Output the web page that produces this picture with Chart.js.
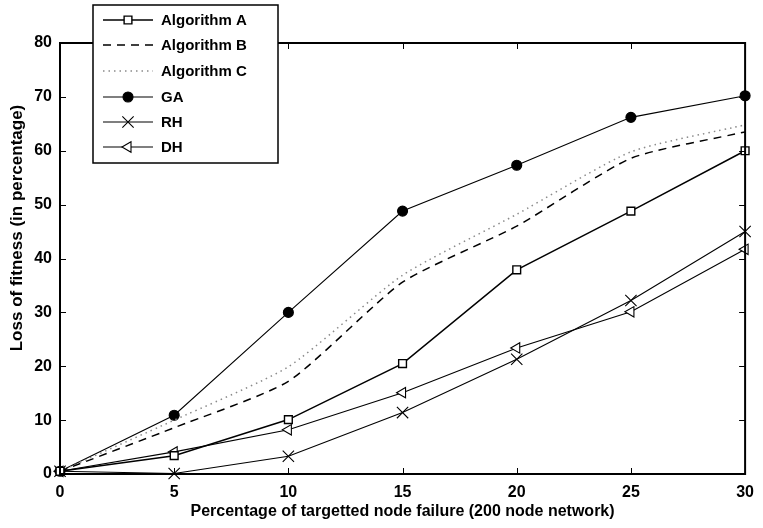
<!DOCTYPE html>
<html>
<head>
<meta charset="utf-8">
<script src="https://cdn.jsdelivr.net/npm/chart.js@4.4.1/dist/chart.umd.min.js"></script>
<style>
  html, body { margin: 0; padding: 0; background: #fff; }
  #wrap { width: 763px; height: 528px; }
</style>
</head>
<body>
<div id="wrap"><canvas id="lossChart" width="763" height="528"></canvas></div>
<script>
// Data
const failurePct = [0, 5, 10, 15, 20, 25, 30];
const algoA = [0.5, 3.4, 10.1, 20.5, 37.9, 48.8, 60.0];
const algoB = [0.5, 8.6, 17.2, 35.6, 46.0, 58.6, 63.5];
const algoC = [0.5, 10.0, 19.9, 36.9, 48.2, 59.8, 64.8];
const gaVals = [0.5, 10.9, 30.0, 48.8, 57.3, 66.2, 70.2];
const rhVals = [0.5, 0.1, 3.3, 11.4, 21.3, 32.2, 45.0];
const dhVals = [0.5, 4.1, 8.2, 15.1, 23.4, 30.1, 41.7];
const xTicks = [0, 5, 10, 15, 20, 25, 30];
const yTicks = [0, 10, 20, 30, 40, 50, 60, 70, 80];

const FONT = '"Liberation Sans", Arial, Helvetica, sans-serif';

function toPoints(vals) {
    return failurePct.map((x, i) => ({ x: x, y: vals[i] }));
}

// frame, inward ticks, y title and the boxed legend
const decorPlugin = {
    id: 'decor',
    afterDatasetsDraw(chart) {
        const { ctx, chartArea: a, scales } = chart;
        const tl = 6;
        ctx.save();
        ctx.strokeStyle = '#000';
        ctx.lineWidth = 1;
        ctx.beginPath();
        xTicks.forEach(v => {
            const px = Math.round(scales.x.getPixelForValue(v)) + 0.5;
            ctx.moveTo(px, a.bottom); ctx.lineTo(px, a.bottom - tl);
            ctx.moveTo(px, a.top); ctx.lineTo(px, a.top + tl);
        });
        yTicks.forEach(v => {
            const py = Math.round(scales.y.getPixelForValue(v)) + 0.5;
            ctx.moveTo(a.left, py); ctx.lineTo(a.left + tl, py);
            ctx.moveTo(a.right, py); ctx.lineTo(a.right - tl, py);
        });
        ctx.stroke();
        ctx.lineWidth = 2;
        ctx.strokeRect(a.left, a.top, a.right - a.left, a.bottom - a.top);
        ctx.restore();
    },
    afterDraw(chart) {
        const { ctx } = chart;
        ctx.save();
        // y axis title
        ctx.font = 'bold 17px ' + FONT;
        ctx.fillStyle = '#000';
        ctx.textAlign = 'center';
        ctx.textBaseline = 'middle';
        ctx.translate(17, 228);
        ctx.rotate(-Math.PI / 2);
        ctx.fillText('Loss of fitness (in percentage)', 0, 0);
        ctx.restore();

        // legend box
        const box = { x: 93, y: 5, w: 185, h: 158 };
        ctx.save();
        ctx.fillStyle = '#fff';
        ctx.fillRect(box.x, box.y, box.w, box.h);
        ctx.strokeStyle = '#000';
        ctx.lineWidth = 1.5;
        ctx.strokeRect(box.x, box.y, box.w, box.h);
        const rowY = [20, 45, 71, 97, 122, 147];
        chart.data.datasets.forEach((ds, i) => {
            const y = rowY[i];
            ctx.save();
            ctx.strokeStyle = ds.borderColor;
            ctx.lineWidth = ds.borderWidth;
            ctx.setLineDash(ds.borderDash || []);
            ctx.beginPath();
            ctx.moveTo(103, y);
            ctx.lineTo(153, y);
            ctx.stroke();
            ctx.restore();
            if (ds.pointRadius > 0) {
                ctx.save();
                ctx.fillStyle = ds.pointBackgroundColor;
                ctx.strokeStyle = ds.pointBorderColor;
                ctx.lineWidth = ds.pointBorderWidth;
                Chart.helpers.drawPoint(ctx, {
                    pointStyle: ds.pointStyle,
                    radius: ds.pointRadius,
                    rotation: ds.pointRotation || 0,
                    borderWidth: ds.pointBorderWidth
                }, 128, y);
                ctx.restore();
            }
            ctx.fillStyle = '#000';
            ctx.font = 'bold 15px ' + FONT;
            ctx.textAlign = 'left';
            ctx.textBaseline = 'middle';
            ctx.fillText(ds.label, 161, y + 1);
        });
        ctx.restore();
    }
};

function lineSet(label, vals, extra) {
    return Object.assign({
        label: label,
        data: toPoints(vals),
        borderColor: '#000',
        borderWidth: 1.1,
        pointRadius: 0,
        pointBorderColor: '#000',
        pointBackgroundColor: '#fff',
        pointBorderWidth: 1.1,
        fill: false,
        clip: false,
        tension: 0
    }, extra);
}

new Chart(document.getElementById('lossChart'), {
    type: 'line',
    data: {
        datasets: [
            lineSet('Algorithm A', algoA, { pointStyle: 'rect', pointRadius: 5.5, borderWidth: 1.5, pointBorderWidth: 1.4 }),
            lineSet('Algorithm B', algoB, { borderDash: [8, 6], borderWidth: 1.5, tension: 0.2 }),
            lineSet('Algorithm C', algoC, { borderDash: [1.5, 4], borderColor: '#8a8a8a', borderWidth: 1.5, tension: 0.2 }),
            lineSet('GA', gaVals, { pointStyle: 'circle', pointRadius: 5, pointBackgroundColor: '#000' }),
            lineSet('RH', rhVals, { pointStyle: 'crossRot', pointRadius: 8 }),
            lineSet('DH', dhVals, { pointStyle: 'triangle', pointRotation: -90, pointRadius: 6 })
        ]
    },
    options: {
        responsive: false,
        animation: false,
        layout: { padding: { left: 0, top: 43, right: 10, bottom: 0 } },
        plugins: {
            legend: { display: false },
            tooltip: { enabled: false }
        },
        scales: {
            x: {
                type: 'linear',
                min: 0,
                max: 30,
                afterBuildTicks: s => { s.ticks = xTicks.map(v => ({ value: v })); },
                afterFit: s => { s.height = 54; },
                grid: { display: false, drawTicks: false },
                border: { display: false },
                ticks: { color: '#000', padding: 9, font: { family: FONT, size: 16, weight: 'bold' } },
                title: {
                    display: true,
                    text: 'Percentage of targetted node failure (200 node network)',
                    color: '#000',
                    padding: { top: 0, bottom: 7 },
                    font: { family: FONT, size: 16, weight: 'bold' }
                }
            },
            y: {
                type: 'linear',
                min: 0,
                max: 80,
                afterBuildTicks: s => { s.ticks = yTicks.map(v => ({ value: v })); },
                afterFit: s => { s.width = 60; },
                grid: { display: false, drawTicks: false },
                border: { display: false },
                ticks: { color: '#000', padding: 8, font: { family: FONT, size: 16, weight: 'bold' } }
            }
        }
    },
    plugins: [decorPlugin]
});
</script>
</body>
</html>
